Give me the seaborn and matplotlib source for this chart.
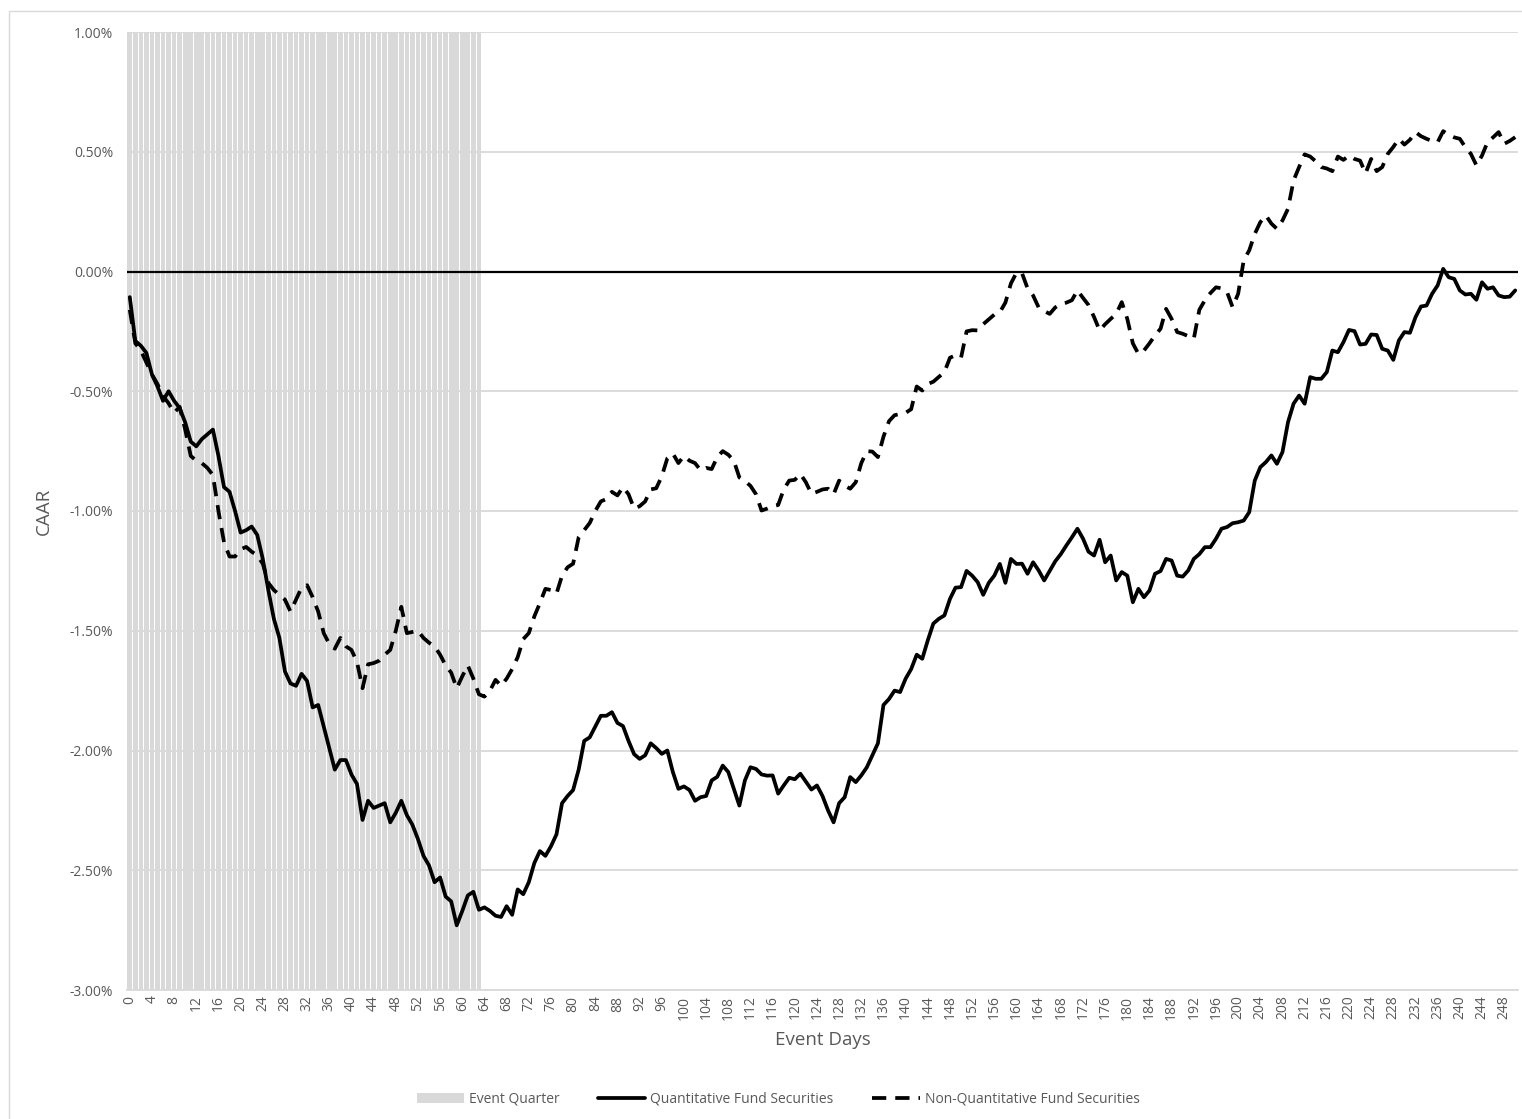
import numpy as np
import pandas as pd
import matplotlib
matplotlib.use("Agg")
import matplotlib.pyplot as plt
from matplotlib.patches import Rectangle, Patch
from matplotlib.lines import Line2D
from matplotlib.ticker import FuncFormatter, MultipleLocator
import seaborn as sns

# ---------------- data ----------------
event_days = list(range(0, 251))
event_quarter_days = list(range(0, 64))   # shaded "Event Quarter"
event_quarter_top = 1.0                    # CAAR %
event_quarter_bottom = -3.0

quant_caar = [
    -0.107, -0.29, -0.31, -0.34, -0.43, -0.48, -0.54, -0.50, -0.54, -0.57,
    -0.63, -0.71, -0.73, -0.70, -0.68, -0.66, -0.77, -0.90, -0.92, -1.00,
    -1.09, -1.08, -1.065, -1.10, -1.20, -1.33, -1.45, -1.53, -1.67, -1.72,
    -1.73, -1.68, -1.71, -1.82, -1.81, -1.90, -1.99, -2.08, -2.04, -2.04,
    -2.10, -2.14, -2.29, -2.21, -2.24, -2.23, -2.22, -2.30, -2.26, -2.21,
    -2.27, -2.31, -2.37, -2.44, -2.48, -2.55, -2.53, -2.61, -2.63, -2.73,
    -2.67, -2.605, -2.59, -2.665, -2.655, -2.67, -2.69, -2.695, -2.65, -2.686,
    -2.58, -2.60, -2.55, -2.47, -2.42, -2.44, -2.40, -2.35, -2.22, -2.19,
    -2.165, -2.08, -1.96, -1.945, -1.90, -1.855, -1.855, -1.84, -1.885, -1.898,
    -1.96, -2.015, -2.035, -2.02, -1.97, -1.99, -2.014, -2.00, -2.09, -2.16,
    -2.15, -2.165, -2.21, -2.195, -2.19, -2.125, -2.11, -2.063, -2.09, -2.16,
    -2.23, -2.125, -2.07, -2.077, -2.10, -2.105, -2.104, -2.18, -2.146, -2.114,
    -2.12, -2.097, -2.13, -2.163, -2.146, -2.19, -2.25, -2.30, -2.22, -2.195,
    -2.111, -2.132, -2.104, -2.07, -2.02, -1.97, -1.81, -1.785, -1.75, -1.756,
    -1.70, -1.66, -1.60, -1.617, -1.54, -1.47, -1.45, -1.436, -1.367, -1.32,
    -1.318, -1.25, -1.27, -1.297, -1.35, -1.30, -1.27, -1.221, -1.30, -1.20,
    -1.221, -1.22, -1.262, -1.214, -1.248, -1.29, -1.25, -1.21, -1.18, -1.144,
    -1.11, -1.074, -1.115, -1.17, -1.186, -1.12, -1.214, -1.186, -1.29, -1.255,
    -1.27, -1.381, -1.325, -1.36, -1.332, -1.262, -1.251, -1.20, -1.207, -1.27,
    -1.274, -1.248, -1.20, -1.18, -1.151, -1.151, -1.116, -1.074, -1.067, -1.051,
    -1.047, -1.04, -1.005, -0.873, -0.817, -0.796, -0.768, -0.803, -0.754, -0.629,
    -0.552, -0.518, -0.552, -0.441, -0.448, -0.448, -0.42, -0.33, -0.337, -0.295,
    -0.244, -0.249, -0.305, -0.302, -0.263, -0.265, -0.323, -0.33, -0.369, -0.288,
    -0.253, -0.256, -0.191, -0.146, -0.142, -0.093, -0.058, 0.011, -0.024, -0.031,
    -0.079, -0.096, -0.093, -0.118, -0.045, -0.072, -0.066, -0.10, -0.107, -0.105,
    -0.079,
]

nonquant_caar = [
    -0.16, -0.30, -0.33, -0.38, -0.43, -0.47, -0.52, -0.55, -0.59, -0.565,
    -0.66, -0.77, -0.79, -0.80, -0.82, -0.85, -1.00, -1.13, -1.19, -1.19,
    -1.16, -1.15, -1.17, -1.185, -1.22, -1.30, -1.33, -1.35, -1.37, -1.42,
    -1.37, -1.32, -1.31, -1.36, -1.42, -1.51, -1.555, -1.575, -1.53, -1.565,
    -1.58, -1.63, -1.74, -1.64, -1.635, -1.625, -1.60, -1.58, -1.50, -1.40,
    -1.51, -1.505, -1.50, -1.53, -1.55, -1.565, -1.60, -1.645, -1.675, -1.74,
    -1.69, -1.645, -1.70, -1.765, -1.775, -1.75, -1.705, -1.73, -1.70, -1.66,
    -1.61, -1.535, -1.51, -1.44, -1.385, -1.325, -1.33, -1.345, -1.27, -1.235,
    -1.22, -1.11, -1.08, -1.05, -1.00, -0.96, -0.95, -0.92, -0.935, -0.90,
    -0.93, -0.99, -0.98, -0.96, -0.91, -0.905, -0.855, -0.78, -0.76, -0.80,
    -0.77, -0.79, -0.80, -0.83, -0.82, -0.825, -0.775, -0.75, -0.765, -0.79,
    -0.86, -0.875, -0.895, -0.93, -0.998, -0.99, -0.98, -0.975, -0.91, -0.873,
    -0.87, -0.845, -0.88, -0.928, -0.92, -0.91, -0.907, -0.93, -0.873, -0.894,
    -0.907, -0.88, -0.80, -0.75, -0.752, -0.775, -0.69, -0.625, -0.60, -0.595,
    -0.59, -0.575, -0.48, -0.497, -0.47, -0.46, -0.44, -0.42, -0.36, -0.35,
    -0.36, -0.25, -0.245, -0.246, -0.22, -0.20, -0.18, -0.17, -0.13, -0.05,
    -0.005, -0.007, -0.07, -0.10, -0.15, -0.165, -0.177, -0.15, -0.135, -0.13,
    -0.12, -0.079, -0.11, -0.14, -0.19, -0.246, -0.22, -0.198, -0.177, -0.128,
    -0.198, -0.30, -0.344, -0.33, -0.30, -0.267, -0.239, -0.156, -0.198, -0.253,
    -0.26, -0.27, -0.281, -0.16, -0.12, -0.09, -0.066, -0.07, -0.086, -0.149,
    -0.093, 0.046, 0.088, 0.157, 0.206, 0.234, 0.20, 0.178, 0.213, 0.262,
    0.38, 0.436, 0.489, 0.48, 0.46, 0.436, 0.43, 0.419, 0.48, 0.466,
    0.484, 0.47, 0.463, 0.41, 0.47, 0.419, 0.436, 0.491, 0.52, 0.554,
    0.53, 0.55, 0.582, 0.565, 0.554, 0.545, 0.54, 0.586, 0.57, 0.56,
    0.554, 0.519, 0.491, 0.443, 0.484, 0.54, 0.56, 0.582, 0.533, 0.545,
    0.561,
]

x_tick_labels = [str(d) for d in range(0, 249, 4)]
series_names = ["Quantitative Fund Securities", "Non-Quantitative Fund Securities"]

# ---------------- style ----------------
sns.set_theme(style="white")
plt.rcParams["font.family"] = ["Open Sans", "DejaVu Sans"]

W, H = 1522, 1119
fig = plt.figure(figsize=(W / 100, H / 100), dpi=100)
ax = fig.add_axes([127 / W, 1 - 990 / H, (1518 - 127) / W, (990 - 32) / H])

grid_col = "#d9d9d9"
text_col = "#595959"
dash_pat = (3.8, 2.4)

# event quarter shading
ax.bar(event_quarter_days, event_quarter_top - event_quarter_bottom,
       bottom=event_quarter_bottom, width=0.84, color="#d9d9d9",
       linewidth=0, zorder=1)

# gridlines
ax.set_ylim(-3.0, 1.0)
ax.yaxis.set_major_locator(MultipleLocator(0.5))
ax.grid(axis="y", color=grid_col, linewidth=1.3, zorder=0)
ax.set_axisbelow(True)
ax.axhline(0, color="black", linewidth=1.6, zorder=3)

df = pd.DataFrame({
    "day": event_days * 2,
    "caar": quant_caar + nonquant_caar,
    "series": [series_names[0]] * len(event_days) + [series_names[1]] * len(event_days),
})
sns.lineplot(data=df, x="day", y="caar", style="series", color="black",
             dashes={series_names[0]: "", series_names[1]: dash_pat},
             linewidth=2.7, legend=False, ax=ax, zorder=4)

ax.set_xlim(-0.5, 250.5)
ax.set_xticks(list(range(0, 249, 4)))
ax.set_xticklabels(x_tick_labels, rotation=90, fontsize=10, color=text_col)
ax.tick_params(axis="x", length=0, pad=4)
ax.tick_params(axis="y", length=0, pad=10, labelsize=10, labelcolor=text_col)
ax.yaxis.set_major_formatter(FuncFormatter(lambda v, p: f"{v:.2f}%"))

for s in ["top", "right", "left"]:
    ax.spines[s].set_visible(False)
ax.spines["bottom"].set_color(grid_col)
ax.spines["bottom"].set_linewidth(1.3)

ax.set_xlabel("Event Days", fontsize=13.5, color=text_col, labelpad=8)
ax.set_ylabel("CAAR", fontsize=13.5, color=text_col, labelpad=12)

# legend
handles = [
    Patch(facecolor="#d9d9d9", edgecolor="none"),
    Line2D([], [], color="black", linewidth=2.7),
    Line2D([], [], color="black", linewidth=2.7, linestyle=(0, dash_pat)),
]
fig.legend(handles, ["Event Quarter"] + series_names, loc="center",
           bbox_to_anchor=(778 / W, 1 - 1099 / H), ncol=3, frameon=False,
           fontsize=10, labelcolor=text_col, handlelength=3.4,
           columnspacing=2.8, handletextpad=0.35)

# chart border (left/top visible)
fig.patches.append(Rectangle((9 / W, -0.01), 1.05, 1 - 11 / H + 0.01,
                             transform=fig.transFigure, fill=False,
                             edgecolor="#d9d9d9", linewidth=1.0))

fig.savefig("out.png", dpi=100)
